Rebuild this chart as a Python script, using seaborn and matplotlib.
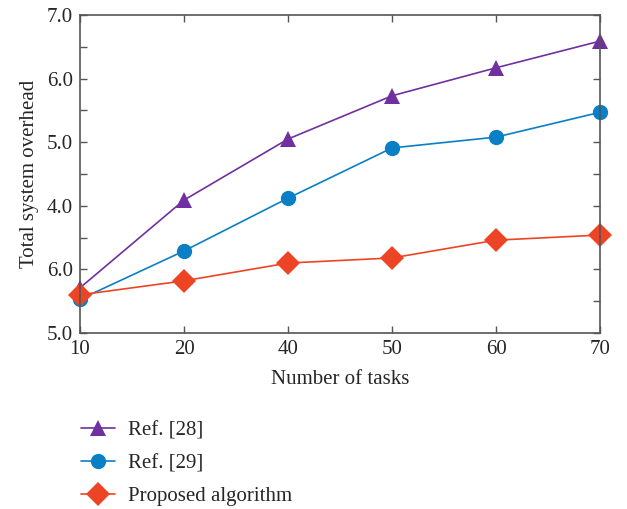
import matplotlib
matplotlib.use("Agg")
import matplotlib.pyplot as plt
from matplotlib.ticker import FixedLocator, FixedFormatter, MultipleLocator
import seaborn as sns

# ================================================
# DATA
# ================================================
tasks = ["10", "20", "40", "50", "60", "70"]
ref28 = [2.71, 4.09, 5.05, 5.73, 6.17, 6.59]
ref29 = [2.53, 3.29, 4.12, 4.91, 5.08, 5.47]
proposed = [2.60, 2.82, 3.10, 3.18, 3.46, 3.54]
ytick_vals = [2, 3, 4, 5, 6, 7]
ytick_labels = ["5.0", "6.0", "4.0", "5.0", "6.0", "7.0"]

# ================================================
# PLOT
# ================================================
sns.set_style("white")
plt.rcParams['font.family'] = ['Liberation Serif', 'DejaVu Serif']

fig = plt.figure(figsize=(6.27, 5.09), dpi=100)
ax = fig.add_axes([0.1276, 0.3458, 0.8294, 0.6247])

sns.lineplot(x=tasks, y=ref28, ax=ax, color='#7030A0', marker='^',
             markersize=12, markeredgewidth=0, linewidth=1.2, label='Ref. [28]', clip_on=False)
sns.lineplot(x=tasks, y=ref29, ax=ax, color='#0A7FC6', marker='o',
             markersize=11, markeredgewidth=0, linewidth=1.2, label='Ref. [29]', clip_on=False)
sns.lineplot(x=tasks, y=proposed, ax=ax, color='#EE4426', marker='D',
             markersize=12, markeredgewidth=0, linewidth=1.2, label='Proposed algorithm', clip_on=False)

ax.set_xlim(0, len(tasks) - 1)
ax.set_ylim(2, 7)
ax.yaxis.set_major_locator(FixedLocator(ytick_vals))
ax.yaxis.set_major_formatter(FixedFormatter(ytick_labels))
ax.yaxis.set_minor_locator(MultipleLocator(0.5))

ax.tick_params(axis='both', which='both', direction='in', top=True, right=True,
               left=True, bottom=True, length=5, width=1, color='#555555',
               labelsize=15, pad=5)
for s in ax.spines.values():
    s.set_color('#555555')
    s.set_linewidth(1.2)

ax.set_xlabel('Number of tasks', fontsize=15, labelpad=8)
ax.set_ylabel('Total system overhead', fontsize=15, labelpad=6)

ax.legend(loc='upper left', bbox_to_anchor=(0.116, 0.19), bbox_transform=fig.transFigure,
          frameon=False, fontsize=15, handlelength=1.65, labelspacing=0.64,
          handletextpad=0.6, borderaxespad=0)

plt.savefig('out.png', dpi=100)
